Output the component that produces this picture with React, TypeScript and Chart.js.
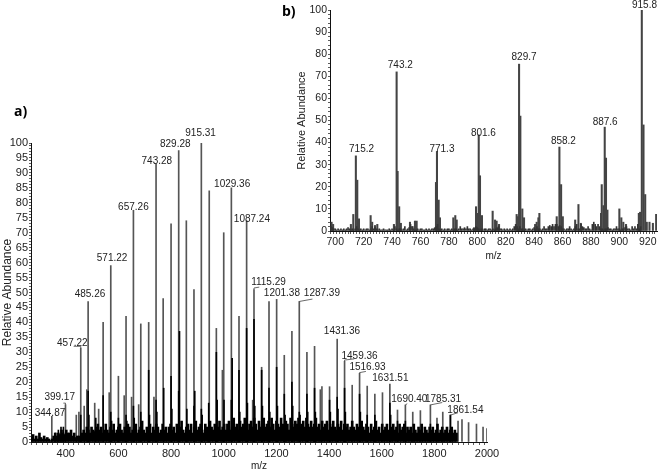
import React, { useEffect, useRef } from "react";
import { Chart, registerables } from "chart.js";
Chart.register(...registerables);

// ---- Panel a ----
const aTallMz = [347,399,440,450,457,470,480,485,510,525,542,565,571,600,622,629,650,657,677,685,715,735,743,770,800,829,858,887,915,945,972,995,1000,1029,1058,1087,1110,1115,1144,1172,1201,1230,1259,1287,1316,1345,1367,1373,1402,1431,1459,1488,1516,1545,1574,1603,1631,1660,1690,1718,1747,1785,1810,1832,1861,1890,1905,1930,1960,1985,2000];
const aTallAb = [8.6,12.5,9,10,31.4,12,17.5,47,13,11,40,16.5,59,22,15.5,42,15,77.5,12.5,39.5,40,15,93,48,73,97.5,74,51,100,84,38,24,70,85,42,74,14,51,25,47,47.7,29,37,47,30,32,17.5,18.5,18.5,34.4,27,19,23,18.7,16,16.5,19.4,10.7,12.4,10,10.5,12.4,8,10,9,7,7.5,6.5,6,5,4.5];
const aDarkMz = [361,372,382,391,457,485,488,514,542,571,574,600,629,632,657,660,685,715,718,743,746,772,800,803,832,829,860,887,890,915,918,943,972,975,1001,1032,1029,1058,1061,1087,1090,1115,1118,1144,1147,1172,1175,1201,1204,1230,1233,1259,1262,1287,1290,1316,1319,1345,1348,1402,1405,1431,1434,1459,1462,1516,1519,1545,1574,1631,1634,1660,1690,1785,1861];
const aDarkAb = [3,4,5,5,9,17,9,8,15.5,10,7,8,9,7,12,8,10,24,9,14,10,18,22,11,37,17,11,12,17,11,9,13,30,14,14,28,14,24,10,38,13,41,12,24,12,18,10,25,12,16,9,20,12,10,9,16,10,18,10,14,10,15,11,18,10,16,10,9,9,13,9,7,7,6,9];
const aFloorStart = 270;
const aFloorStep = 6;
const aFloorAb = [
1.5,2.5,1,2,1,3,1.5,1,2,1,1.5,1,.5,1,2,3,2,3,2.5,4,3,2.5,4,3,3,4,2,3,1.5,2,2,1.5,3,4,3,5,4,3,5,4,
3.5,5,6,4,5,3,4,6,4,3,5,4,6,3,4,5,6,4,3,5,4,6,5,3,4,5,6,3,4,5,7,4,3,5,4,6,3,5,4,6,
5,3,4,6,4,5,3,5,6,4,5,3,6,4,5,7,4,3,5,6,4,6,3,5,7,4,5,6,4,3,6,5,4,7,5,4,6,3,5,7,
4,5,6,4,6,7,4,5,8,5,6,4,7,5,6,8,5,4,6,7,5,8,6,4,7,5,6,8,5,6,7,5,8,6,4,7,6,5,8,6,
5,7,6,4,8,6,5,7,6,8,5,6,7,5,8,6,5,7,5,6,8,5,6,4,7,5,6,7,4,6,5,7,5,4,6,5,7,4,6,5,
6,4,5,7,5,4,6,5,4,7,5,4,6,5,3,6,4,5,7,4,5,3,6,4,5,6,4,3,5,6,4,5,3,6,4,5,6,3,5,4,
5,3,6,4,3,5,4,6,3,5,4,3,5,4,5,3,4,6,3,4,5,3,4,5,3,4,5,3,4,3,
];
const aLabels = ["344.87","399.17","457.22","485.26","571.22","657.26","743.28","829.28","915.31","1029.36","1087.24","1115.29","1201.38","1287.39","1431.36","1459.36","1516.93","1631.51","1690.40","1785.31","1861.54"];
const aLabelMz = [340,377,425,492,576,657,746,816,912,1032,1107,1170,1221,1373,1449,1516,1546,1633,1705,1833,1918];
const aLabelAb = [9.7,14.9,33.1,49.5,61.3,78.6,93.9,99.6,103.3,86.3,74.6,53.3,49.6,49.6,37.1,28.8,24.9,21.3,14.4,14.4,10.7];
// leader lines: peak (m/z, abundance) → elbow → end
const aLeaders = [
  [[399,12.5],[399,13],[391,13]],
  [[457,31.4],[457,32],[430,32]],
  [[1115,51],[1115,51.5],[1135,51.8]],
  [[1287,47],[1287,47],[1337,47.8]],
  [[1459,27],[1459,27.4],[1496,27.8]],
  [[1516,23],[1516,23.2],[1540,23.6]],
  [[1690,12.4],[1690,12.4],[1697,12.8]],
  [[1785,12.4],[1785,12.4],[1830,13.2]],
  [[1861,9],[1861,9],[1890,9.8]],
];

// ---- Panel b ----
const bPeakMz = [697.4,698.5,711,712.7,714.5,715.5,716.7,724.9,726,728,729.6,741.3,743.2,743.9,745,746.2,752.6,754.5,756.1,757.3,770.9,771.6,772.8,773.7,783.1,784.5,785.5,797.7,799.1,800,801,801.9,803.3,810.8,812.5,813.6,815.3,827.7,828.7,829.4,830.3,831.7,832.9,840.7,841.8,843,843.7,855.9,857.8,859,860.2,868.9,871.2,872.9,887.1,887.6,888.8,889.7,890.6,891.6,900,901.4,902.8,904.7,913.7,914.6,915.8,917,918.2,919.3,921.2,923.6,925.9];
const bPeakAb = [4,3,3,7.5,34,23,5.5,7,4,2.5,3,3,72,27,11,3.5,4,2,4.5,4.5,22,36,14,6,6,7,5,1.5,11,8,43.5,25,7,9,5,4.5,3,7.5,6.5,75.5,52,10,6,3,4,6,8,6.5,38,21,6.5,5,12,3.5,8,21,11.5,47,33,9.5,10,6,4,3,8,8.5,100,48,16.5,4,4,3.5,7.5];
const bFloorStart = 697;
const bFloorAb = [
2,1.5,1,1,.5,1,.5,1,.5,1,.5,1,1.5,1,.5,1,.5,1,2,1,.5,1,.5,1,.5,1,1,.5,1,2,1,1.5,1,.5,1,.5,.5,1,.5,.5,
.5,1,.5,1,.5,2,1,.5,1,1,.5,1,2,.5,1,1.5,3,2,1,.5,.5,1,.5,1,1,.5,.5,1,.5,1,.5,1,1,1.5,2,3,1,.5,1,.5,
1,.5,1,1,.5,1,.5,1,1,.5,1,2,1,1,1.5,1,2,1,1,.5,1,1,2,1.5,1,.5,1,.5,1,1,.5,1,1,.5,1,.5,1,1.5,2,1,
1,.5,1,.5,1,.5,1,.5,1,2,3,2,1,2,1,1,.5,1,.5,1,1,.5,1,1.5,1,2,1,1,.5,1,2,1,1,2,2.5,2,3,2,3,3,
2,2.5,2,1,1,.5,1,1,2,1,.5,1,2,3,1,1,3,2,1.5,1,1,2,1,.5,3,4,3,2,3,2,1,1,.5,1,1,1.5,1,1,.5,1,
1,2,1,1,.5,1,1,1.5,2,1,1,.5,2,1,2,1,3,1,2,
];
const bLabels = ["715.2","743.2","771.3","801.6","829.7","858.2","887.6","915.8"];
const bLabelMz = [718.5,745.8,775.1,804.3,832.9,860.6,890,917.7];
const bLabelAb = [37.1,75.1,37.1,44.3,78.6,40.7,49.3,102];

const FONT = "'Liberation Sans', Arial, sans-serif";
const toPts = (xs: number[], ys: number[]) => xs.map((x, i) => ({ x, y: ys[i] }));

function labelPlugin(labels: string[], mz: number[], ab: number[], leaders: number[][][], size: number) {
  return {
    id: "peakLabels",
    afterDraw(chart: any) {
      const { ctx, scales } = chart;
      ctx.save();
      ctx.strokeStyle = "#444";
      ctx.lineWidth = 0.8;
      leaders.forEach((pts) => {
        ctx.beginPath();
        pts.forEach(([x, y], i) => {
          const px = scales.x.getPixelForValue(x), py = scales.y.getPixelForValue(y);
          if (i === 0) ctx.moveTo(px, py); else ctx.lineTo(px, py);
        });
        ctx.stroke();
      });
      ctx.fillStyle = "#222";
      ctx.font = `${size}px ${FONT}`;
      ctx.textAlign = "center";
      ctx.textBaseline = "middle";
      labels.forEach((t, i) => ctx.fillText(t, scales.x.getPixelForValue(mz[i]), scales.y.getPixelForValue(ab[i])));
      ctx.restore();
    },
  };
}

type P = {
  left: number; top: number; width: number; height: number;
  pad: { top: number; right: number }; axisW: number; axisH: number;
  xMin: number; xMax: number; xStep: number; xLabelStep: number; yStep: number; yLabelStep: number;
  titleSize: number; tickSize: number; datasets: any[]; plugin: any;
};

function Spectrum(p: P) {
  const ref = useRef<HTMLCanvasElement>(null);
  useEffect(() => {
    const chart = new Chart(ref.current!, {
      type: "bar",
      data: { datasets: p.datasets },
      options: {
        animation: false, responsive: false,
        layout: { padding: { top: p.pad.top, right: p.pad.right, left: 0, bottom: 0 } },
        plugins: { legend: { display: false }, tooltip: { enabled: false } },
        scales: {
          x: {
            type: "linear", offset: false, min: p.xMin, max: p.xMax,
            afterFit: (s: any) => { s.height = p.axisH; },
            grid: { drawOnChartArea: false, drawTicks: true, tickLength: 3, tickColor: "#333", tickWidth: 0.8 },
            border: { color: "#111", width: 1 },
            ticks: {
              stepSize: p.xStep, autoSkip: false, maxRotation: 0, includeBounds: false, padding: 2,
              color: "#222", font: { family: FONT, size: p.tickSize },
              callback: (v: any) => (Number(v) % p.xLabelStep === 0 ? String(v) : ""),
            },
            title: { display: true, text: "m/z", color: "#222", font: { family: FONT, size: 10 }, padding: 0 },
          },
          y: {
            min: 0, max: 100,
            afterFit: (s: any) => { s.width = p.axisW; },
            grid: { drawOnChartArea: false, drawTicks: true, tickLength: 2, tickColor: "#333", tickWidth: 0.8 },
            border: { color: "#111", width: 1 },
            ticks: {
              stepSize: p.yStep, autoSkip: false, padding: 1,
              color: "#222", font: { family: FONT, size: p.tickSize },
              callback: (v: any) => (Number(v) % p.yLabelStep === 0 ? String(v) : ""),
            },
            title: { display: true, text: "Relative Abundance", color: "#222", font: { family: FONT, size: p.titleSize }, padding: 0 },
          },
        },
      },
      plugins: [p.plugin],
    } as any);
    return () => chart.destroy();
  }, []);
  return (
    <canvas ref={ref} width={p.width} height={p.height}
      style={{ position: "absolute", left: p.left, top: p.top, width: p.width, height: p.height, filter: "blur(0.35px)" }} />
  );
}

const bar = (data: any[], color: string, thick: number) => ({
  data, backgroundColor: color, barThickness: thick, grouped: false, borderWidth: 0, parsing: true,
});

export default function App() {
  const aFloor = aFloorAb.map((y, i) => ({ x: aFloorStart + i * aFloorStep, y }));
  const bFloor = bFloorAb.map((y, i) => ({ x: bFloorStart + i, y }));
  return (
    <div style={{ position: "absolute", left: 0, top: 0, width: 661, height: 472, overflow: "hidden", background: "#fff" }}>
      <Spectrum
        left={0} top={120} width={510} height={352}
        pad={{ top: 23, right: 23 }} axisW={31} axisH={30}
        xMin={268} xMax={2000} xStep={20} xLabelStep={200} yStep={1} yLabelStep={5}
        titleSize={12} tickSize={11}
        datasets={[
          bar(aFloor, "#000", 2),
          bar(toPts(aDarkMz, aDarkAb), "#000", 1),
          bar(toPts(aTallMz, aTallAb), "#555", 1),
        ]}
        plugin={labelPlugin(aLabels, aLabelMz, aLabelAb, aLeaders, 10)}
      />
      <Spectrum
        left={295} top={0} width={366} height={262}
        pad={{ top: 10, right: 4 }} axisW={35} axisH={31}
        xMin={696.3} xMax={926.5} xStep={2} xLabelStep={20} yStep={2} yLabelStep={10}
        titleSize={11} tickSize={10.5}
        datasets={[
          bar(bFloor, "#333", 1),
          bar(toPts(bPeakMz, bPeakAb), "#444", 1.4),
        ]}
        plugin={labelPlugin(bLabels, bLabelMz, bLabelAb, [], 10)}
      />
      <div style={{ position: "absolute", left: 14, top: 101, fontFamily: "'Open Sans', sans-serif", fontWeight: 700, fontSize: 14 }}>a)</div>
      <div style={{ position: "absolute", left: 282, top: 1, fontFamily: "'Open Sans', sans-serif", fontWeight: 700, fontSize: 14 }}>b)</div>
    </div>
  );
}
